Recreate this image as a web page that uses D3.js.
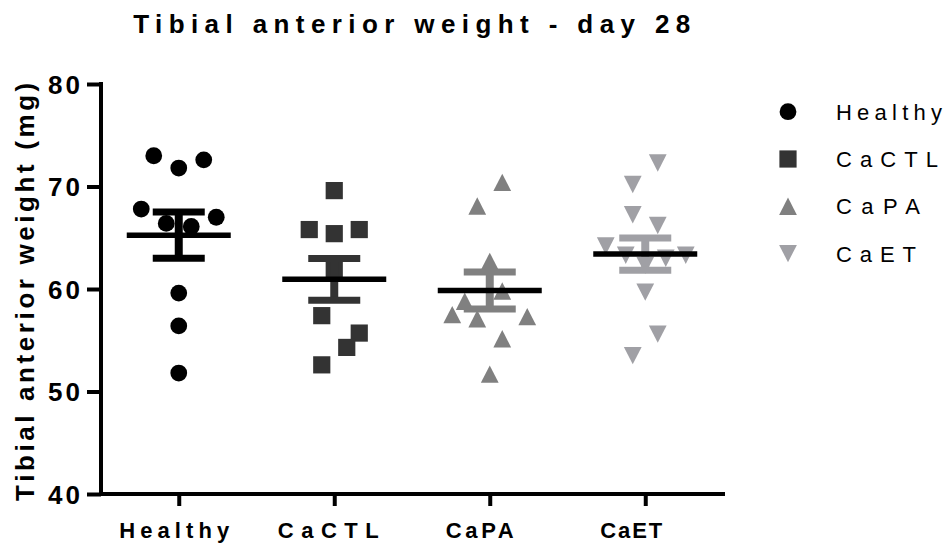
<!DOCTYPE html>
<html><head><meta charset="utf-8">
<script src="https://cdn.jsdelivr.net/npm/d3@7"></script>
<style>body{margin:0;background:#fff} svg{display:block}</style>
</head><body><svg id="c" width="946" height="546"></svg>
<script>
// ---- data ----
const categories = ["Healthy", "CaCTL", "CaPA", "CaET"];
const healthyValues = [73.0, 71.8, 72.6, 67.8, 67.0, 66.4, 66.1, 59.6, 56.4, 51.8];
const healthySlots  = [-2, 0, 2, -3, 3, -1, 1, 0, 0, 0];
const caCTLValues = [69.6, 65.8, 65.4, 65.8, 61.9, 57.4, 55.7, 54.3, 52.6];
const caCTLSlots  = [0, -2, 0, 2, 0, -1, 2, 1, -1];
const caPAValues = [70.4, 68.1, 62.7, 59.8, 58.8, 57.5, 57.1, 57.3, 55.15, 51.7];
const caPASlots  = [1, -1, 0, 1, -2, -3, -1, 3, 1, 0];
const caETValues = [72.3, 70.2, 67.25, 66.2, 64.2, 63.3, 62.3, 63.0, 63.3, 59.7, 55.6, 53.5];
const caETSlots  = [1, -1, -1, 1, -3.16, -1.56, 0, 1.64, 3.24, 0, 1, -1];
const yTicks = [40, 50, 60, 70, 80];
const titleText = "Tibial anterior weight - day 28";
const yLabelText = "Tibial anterior weight (mg)";

// ---- layout / styles ----
const groups = [
  {name: "Healthy", values: healthyValues, slots: healthySlots, color: "#000000", shape: "circle"},
  {name: "CaCTL", values: caCTLValues, slots: caCTLSlots, color: "#333333", shape: "square"},
  {name: "CaPA", values: caPAValues, slots: caPASlots, color: "#808080", shape: "up"},
  {name: "CaET", values: caETValues, slots: caETSlots, color: "#a0a0a5", shape: "down"}
];
const xLabelLayout = {Healthy: {dx: -4.5, w: 110}, CaCTL: {dx: -6, w: 101}, CaPA: {dx: -10, w: 68}, CaET: {dx: -14, w: 62}};
const legendWidths = {Healthy: 106, CaCTL: 102, CaPA: 84, CaET: 80};
const FONT = "'Liberation Sans', Arial, Helvetica, sans-serif";
const svg = d3.select("#c");
const x = d3.scalePoint().domain(categories).range([101, 723]).padding(0.5);
const y = d3.scaleLinear().domain([40, 80]).range([494, 84]);
const slotW = 12.5;

function symPath(shape) {
  if (shape === "circle") return d3.symbol(d3.symbolCircle, Math.PI * 8.4 * 8.4)();
  if (shape === "square") return "M-8.6,-8.6H8.6V8.6H-8.6Z";
  if (shape === "up") return "M0,-8.7L8.9,8.7H-8.9Z";
  return "M-8.9,-8.7H8.9L0,8.7Z";
}

// axes
const yAxis = svg.append("g").attr("transform", "translate(101,0)")
  .call(d3.axisLeft(y).tickValues(yTicks).tickSize(14).tickSizeOuter(0).tickPadding(4).tickFormat(d3.format("d")));
const xAxis = svg.append("g").attr("transform", "translate(0,494)")
  .call(d3.axisBottom(x).tickSize(12).tickSizeOuter(0).tickFormat(""));
[yAxis, xAxis].forEach(a => {
  a.select(".domain").attr("stroke", "#000").attr("stroke-width", 4).attr("stroke-linecap", "square");
  a.selectAll(".tick line").attr("stroke", "#000").attr("stroke-width", 4);
});
yAxis.select(".domain").attr("d", "M0,84V494");
xAxis.select(".domain").attr("d", "M101,0H723");
yAxis.selectAll(".tick text")
  .attr("font-family", FONT).attr("font-weight", "bold").attr("font-size", 26)
  .attr("letter-spacing", 3).attr("fill", "#000").attr("dy", "0.36em");

// x labels
svg.append("g").selectAll("text").data(categories).join("text")
  .attr("x", d => x(d) + xLabelLayout[d].dx)
  .attr("y", 538)
  .attr("text-anchor", "middle")
  .attr("font-family", FONT).attr("font-weight", "bold").attr("font-size", 22)
  .attr("textLength", d => xLabelLayout[d].w).attr("lengthAdjust", "spacing")
  .text(d => d);

// title
svg.append("text").attr("x", 415).attr("y", 33).attr("text-anchor", "middle")
  .attr("font-family", FONT).attr("font-weight", "bold").attr("font-size", 26)
  .attr("letter-spacing", 6.4).text(titleText);

// y label
svg.append("text").attr("transform", "translate(34,290) rotate(-90)").attr("text-anchor", "middle")
  .attr("font-family", FONT).attr("font-weight", "bold").attr("font-size", 26)
  .attr("letter-spacing", 3.6).text(yLabelText);

// points + stats
groups.forEach(g => {
  const cx = x(g.name);
  const pts = g.values.map((v, i) => ({v, s: g.slots[i]}));
  svg.append("g").selectAll("path").data(pts).join("path")
    .attr("d", symPath(g.shape))
    .attr("transform", d => `translate(${cx + d.s * slotW},${y(d.v)})`)
    .attr("fill", g.color);
  const mean = d3.mean(g.values);
  const sem = d3.deviation(g.values) / Math.sqrt(g.values.length);
  const eg = svg.append("g").attr("stroke", g.color).attr("stroke-width", 7);
  eg.append("line").attr("x1", cx).attr("x2", cx).attr("y1", y(mean + sem)).attr("y2", y(mean - sem)).attr("stroke-width", 8);
  eg.append("line").attr("x1", cx - 26).attr("x2", cx + 26).attr("y1", y(mean + sem)).attr("y2", y(mean + sem));
  eg.append("line").attr("x1", cx - 26).attr("x2", cx + 26).attr("y1", y(mean - sem)).attr("y2", y(mean - sem));
  svg.append("line").attr("x1", cx - 52).attr("x2", cx + 52).attr("y1", y(mean)).attr("y2", y(mean))
    .attr("stroke", "#000").attr("stroke-width", 5.5);
});

// legend
const leg = svg.append("g").selectAll("g").data(groups).join("g")
  .attr("transform", (d, i) => `translate(788,${111.7 + i * 47.3})`);
leg.append("path").attr("d", d => symPath(d.shape)).attr("fill", d => d.color);
leg.append("text").attr("x", 48).attr("y", 8)
  .attr("font-family", FONT).attr("font-size", 22)
  .attr("textLength", d => legendWidths[d.name]).attr("lengthAdjust", "spacing")
  .attr("fill", "#000").text(d => d.name);
</script>
</body></html>
